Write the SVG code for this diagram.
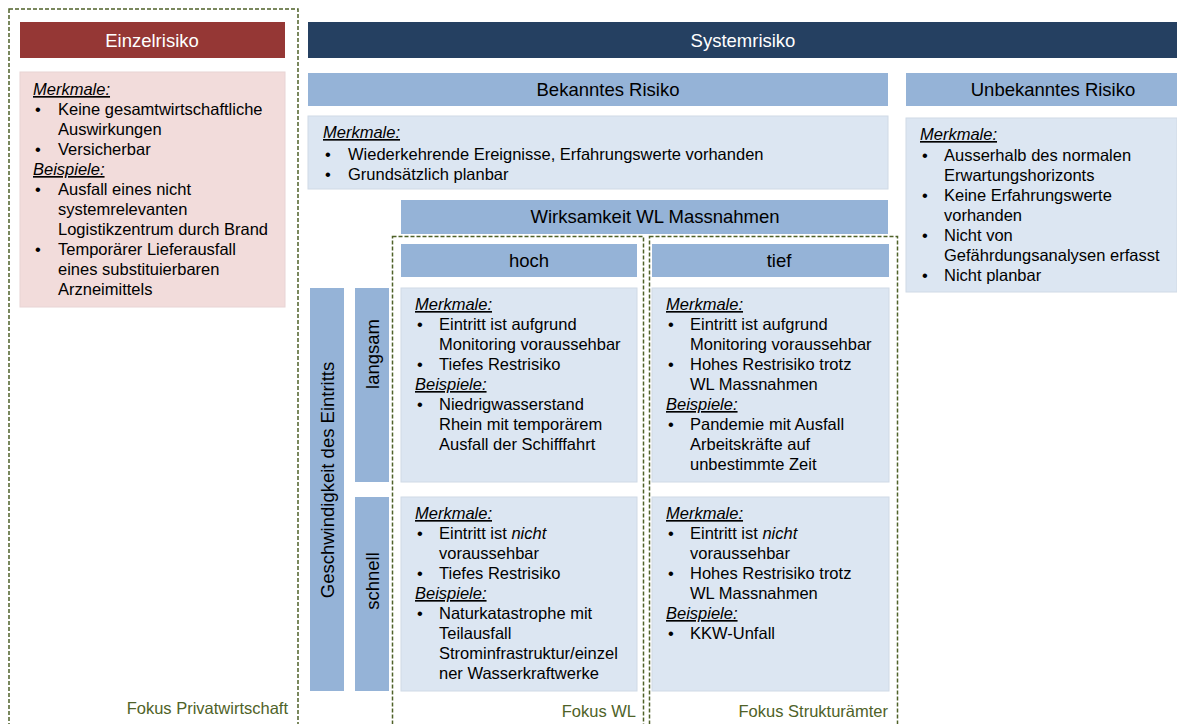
<svg xmlns="http://www.w3.org/2000/svg" width="1177" height="724" viewBox="0 0 1177 724">
<style>
text{font-family:"Liberation Sans",Arial,sans-serif;}
.hd{font-size:18.5px;text-anchor:middle;}
.w{fill:#ffffff;}
.k{fill:#000000;}
.b{font-size:16.5px;fill:#000000;}
.lbl{font-style:italic;text-decoration:underline;}
.it{font-style:italic;}
.fk{font-size:16.5px;fill:#4F6228;text-anchor:end;}
.dash{fill:none;stroke:#4F6228;stroke-width:1.5;stroke-dasharray:4 2;}
.red{fill:#953735;}
.navy{fill:#254061;}
.mid{fill:#95B3D7;}
.lite{fill:#DCE6F2;stroke:#D0DAE6;stroke-width:1;}
.pink{fill:#F2DCDB;stroke:#E8D4D4;stroke-width:1;}
</style>

<g id="focus-frames">
  <rect class="dash" x="9" y="9" width="289" height="730"/>
  <rect class="dash" x="392.5" y="236.5" width="251" height="500"/>
  <rect class="dash" x="649.5" y="236.5" width="248" height="500"/>
  <text class="fk" x="288" y="714">Fokus Privatwirtschaft</text>
  <text class="fk" x="636" y="717">Fokus WL</text>
  <text class="fk" x="888" y="717">Fokus Strukturämter</text>
</g>

<g id="einzelrisiko">
  <rect class="red" x="20" y="22" width="265" height="36"/>
  <text class="hd w" x="152" y="47">Einzelrisiko</text>
</g>

<g id="einzelrisiko-box">
  <rect class="pink" x="20" y="72" width="265" height="235"/>
  <text class="b"><tspan class="lbl" x="33" y="95">Merkmale:</tspan></text>
  <text class="b">
    <tspan x="35" y="115">•</tspan><tspan x="58" y="115">Keine gesamtwirtschaftliche</tspan>
    <tspan x="58" y="135">Auswirkungen</tspan>
    <tspan x="35" y="155">•</tspan><tspan x="58" y="155">Versicherbar</tspan>
  </text>
  <text class="b"><tspan class="lbl" x="33" y="175">Beispiele:</tspan></text>
  <text class="b">
    <tspan x="35" y="195">•</tspan><tspan x="58" y="195">Ausfall eines nicht</tspan>
    <tspan x="58" y="215">systemrelevanten</tspan>
    <tspan x="58" y="235">Logistikzentrum durch Brand</tspan>
    <tspan x="35" y="255">•</tspan><tspan x="58" y="255">Temporärer Lieferausfall</tspan>
    <tspan x="58" y="275">eines substituierbaren</tspan>
    <tspan x="58" y="295">Arzneimittels</tspan>
  </text>
</g>

<g id="systemrisiko">
  <rect class="navy" x="308" y="22" width="869" height="36"/>
  <text class="hd w" x="743" y="47">Systemrisiko</text>
</g>

<g id="bekanntes-risiko">
  <rect class="mid" x="308" y="73" width="580" height="33"/>
  <text class="hd k" x="608" y="96">Bekanntes Risiko</text>
</g>

<g id="bekanntes-box">
  <rect class="lite" x="308" y="116" width="580" height="73"/>
  <text class="b"><tspan class="lbl" x="323" y="138">Merkmale:</tspan></text>
  <text class="b">
    <tspan x="325" y="160">•</tspan><tspan x="348" y="160">Wiederkehrende Ereignisse, Erfahrungswerte vorhanden</tspan>
    <tspan x="325" y="180">•</tspan><tspan x="348" y="180">Grundsätzlich planbar</tspan>
  </text>
</g>

<g id="unbekanntes-risiko">
  <rect class="mid" x="906" y="73" width="271" height="33"/>
  <text class="hd k" x="1053" y="96">Unbekanntes Risiko</text>
</g>

<g id="unbekanntes-box">
  <rect class="lite" x="906" y="118" width="271" height="174"/>
  <text class="b"><tspan class="lbl" x="920" y="140">Merkmale:</tspan></text>
  <text class="b">
    <tspan x="922" y="161">•</tspan><tspan x="944" y="161">Ausserhalb des normalen</tspan>
    <tspan x="944" y="181">Erwartungshorizonts</tspan>
    <tspan x="922" y="201">•</tspan><tspan x="944" y="201">Keine Erfahrungswerte</tspan>
    <tspan x="944" y="221">vorhanden</tspan>
    <tspan x="922" y="241">•</tspan><tspan x="944" y="241">Nicht von</tspan>
    <tspan x="944" y="261">Gefährdungsanalysen erfasst</tspan>
    <tspan x="922" y="281">•</tspan><tspan x="944" y="281">Nicht planbar</tspan>
  </text>
</g>

<g id="wirksamkeit">
  <rect class="mid" x="401" y="200" width="487" height="34"/>
  <text class="hd k" x="655" y="223">Wirksamkeit WL Massnahmen</text>
</g>

<g id="hoch">
  <rect class="mid" x="401" y="244" width="236" height="33"/>
  <text class="hd k" x="529" y="267">hoch</text>
</g>

<g id="tief">
  <rect class="mid" x="652" y="244" width="237" height="33"/>
  <text class="hd k" x="779" y="267">tief</text>
</g>

<g id="geschwindigkeit">
  <rect class="mid" x="310" y="288" width="34" height="403"/>
  <text class="hd k" transform="translate(327,480) rotate(-90)" x="0" y="6.5">Geschwindigkeit des Eintritts</text>
</g>

<g id="langsam">
  <rect class="mid" x="355" y="288" width="34" height="194"/>
  <text class="hd k" transform="translate(372,354) rotate(-90)" x="0" y="6.5">langsam</text>
</g>

<g id="schnell">
  <rect class="mid" x="355" y="497" width="34" height="194"/>
  <text class="hd k" transform="translate(372,581) rotate(-90)" x="0" y="6.5">schnell</text>
</g>

<g id="hoch-langsam">
  <rect class="lite" x="401" y="288" width="236" height="194"/>
  <text class="b"><tspan class="lbl" x="415" y="310">Merkmale:</tspan></text>
  <text class="b">
    <tspan x="417" y="330">•</tspan><tspan x="439" y="330">Eintritt ist aufgrund</tspan>
    <tspan x="439" y="350">Monitoring voraussehbar</tspan>
    <tspan x="417" y="370">•</tspan><tspan x="439" y="370">Tiefes Restrisiko</tspan>
  </text>
  <text class="b"><tspan class="lbl" x="415" y="390">Beispiele:</tspan></text>
  <text class="b">
    <tspan x="417" y="410">•</tspan><tspan x="439" y="410">Niedrigwasserstand</tspan>
    <tspan x="439" y="430">Rhein mit temporärem</tspan>
    <tspan x="439" y="450">Ausfall der Schifffahrt</tspan>
  </text>
</g>

<g id="tief-langsam">
  <rect class="lite" x="652" y="288" width="237" height="194"/>
  <text class="b"><tspan class="lbl" x="666" y="310">Merkmale:</tspan></text>
  <text class="b">
    <tspan x="668" y="330">•</tspan><tspan x="690" y="330">Eintritt ist aufgrund</tspan>
    <tspan x="690" y="350">Monitoring voraussehbar</tspan>
    <tspan x="668" y="370">•</tspan><tspan x="690" y="370">Hohes Restrisiko trotz</tspan>
    <tspan x="690" y="390">WL Massnahmen</tspan>
  </text>
  <text class="b"><tspan class="lbl" x="666" y="410">Beispiele:</tspan></text>
  <text class="b">
    <tspan x="668" y="430">•</tspan><tspan x="690" y="430">Pandemie mit Ausfall</tspan>
    <tspan x="690" y="450">Arbeitskräfte auf</tspan>
    <tspan x="690" y="470">unbestimmte Zeit</tspan>
  </text>
</g>

<g id="hoch-schnell">
  <rect class="lite" x="401" y="497" width="236" height="194"/>
  <text class="b"><tspan class="lbl" x="415" y="519">Merkmale:</tspan></text>
  <text class="b">
    <tspan x="417" y="539">•</tspan><tspan x="439" y="539">Eintritt ist <tspan class="it">nicht</tspan></tspan>
    <tspan x="439" y="559">voraussehbar</tspan>
    <tspan x="417" y="579">•</tspan><tspan x="439" y="579">Tiefes Restrisiko</tspan>
  </text>
  <text class="b"><tspan class="lbl" x="415" y="599">Beispiele:</tspan></text>
  <text class="b">
    <tspan x="417" y="619">•</tspan><tspan x="439" y="619">Naturkatastrophe mit</tspan>
    <tspan x="439" y="639">Teilausfall</tspan>
    <tspan x="439" y="659">Strominfrastruktur/einzel</tspan>
    <tspan x="439" y="679">ner Wasserkraftwerke</tspan>
  </text>
</g>

<g id="tief-schnell">
  <rect class="lite" x="652" y="497" width="237" height="194"/>
  <text class="b"><tspan class="lbl" x="666" y="519">Merkmale:</tspan></text>
  <text class="b">
    <tspan x="668" y="539">•</tspan><tspan x="690" y="539">Eintritt ist <tspan class="it">nicht</tspan></tspan>
    <tspan x="690" y="559">voraussehbar</tspan>
    <tspan x="668" y="579">•</tspan><tspan x="690" y="579">Hohes Restrisiko trotz</tspan>
    <tspan x="690" y="599">WL Massnahmen</tspan>
  </text>
  <text class="b"><tspan class="lbl" x="666" y="619">Beispiele:</tspan></text>
  <text class="b">
    <tspan x="668" y="639">•</tspan><tspan x="690" y="639">KKW-Unfall</tspan>
  </text>
</g>

<g id="connectors"></g>
</svg>
